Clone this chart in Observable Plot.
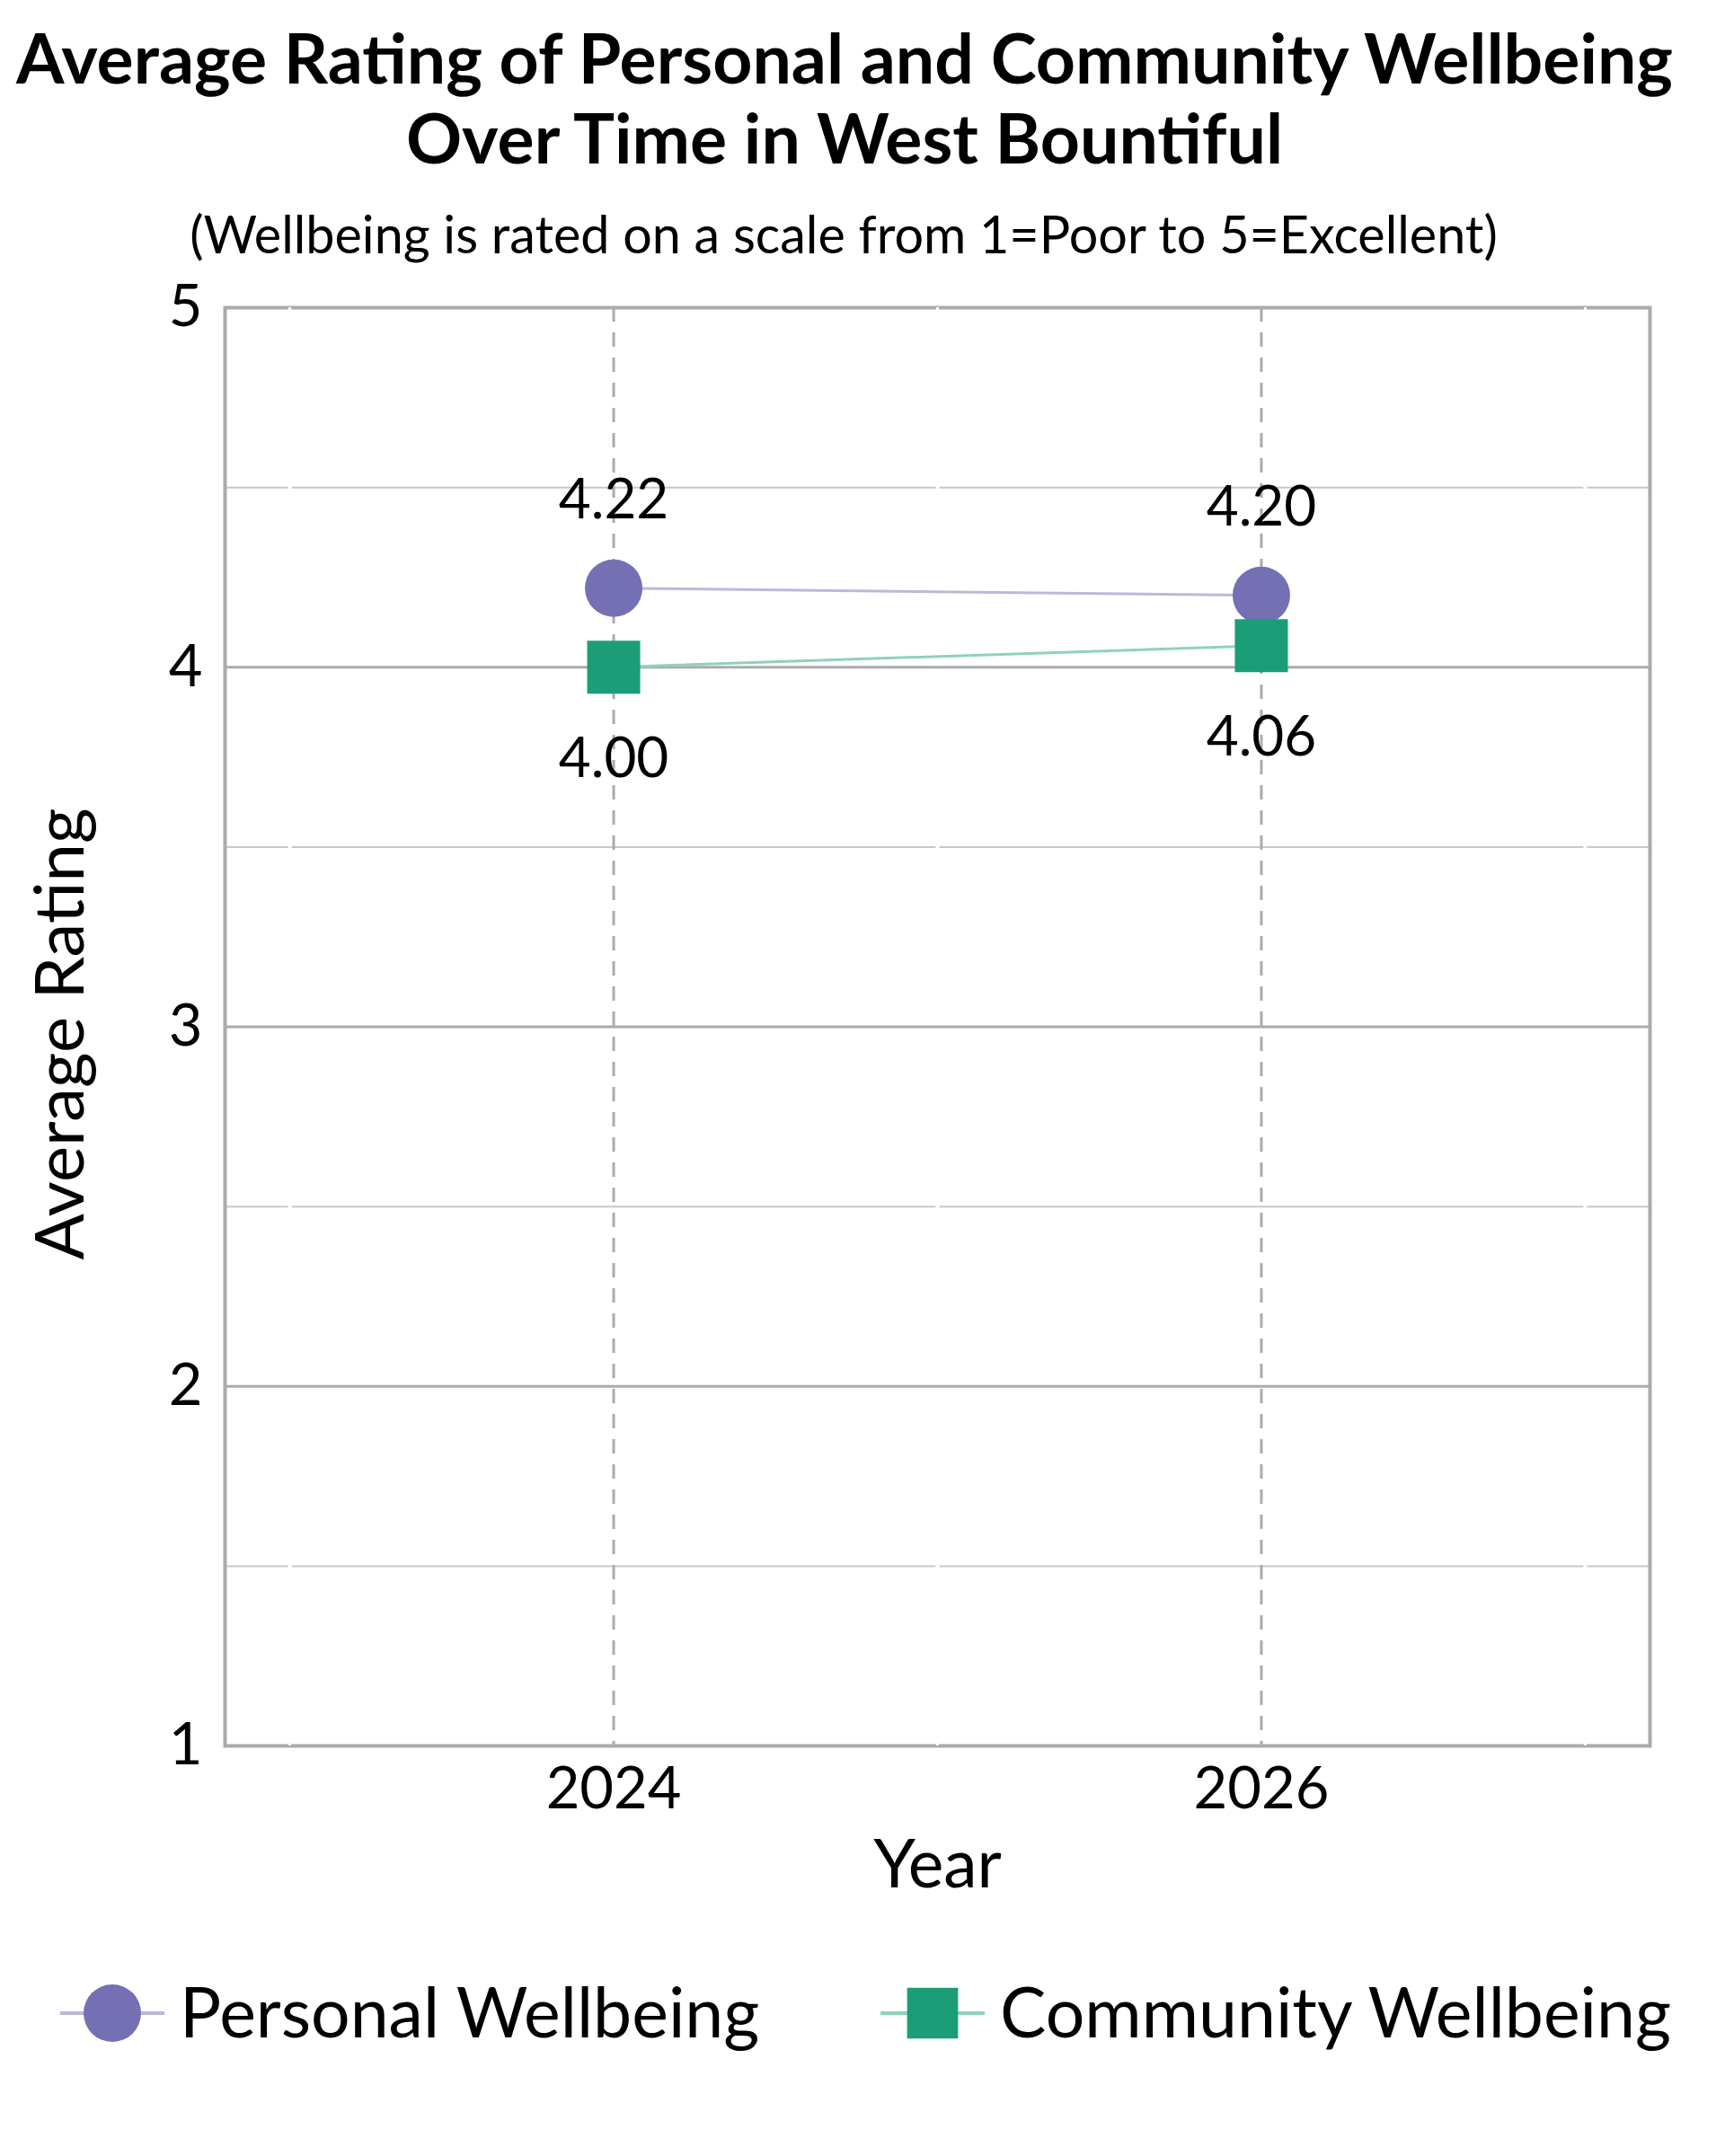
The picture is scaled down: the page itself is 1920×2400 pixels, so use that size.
<!DOCTYPE html>
<html>
<head>
<meta charset="utf-8">
<script src="https://cdn.jsdelivr.net/npm/d3@7"></script>
<script src="https://cdn.jsdelivr.net/npm/@observablehq/plot@0.6"></script>
<style>
  html, body { margin: 0; padding: 0; background: #fff; }
  #page { position: relative; width: 1920px; height: 2400px; font-family: Lato, "Open Sans", sans-serif; color: #000; }
  #title { position: absolute; left: 0; top: 19px; width: 1880px; text-align: center; font-weight: 700; font-size: 77px; line-height: 89px; white-space: nowrap; }
  #subtitle { position: absolute; left: 0; top: 226px; width: 1878px; text-align: center; font-size: 57.5px; line-height: 68px; white-space: nowrap; }
  #chart { position: absolute; left: 0; top: 300px; }
  #legend { position: absolute; left: 0; top: 2192px; width: 1920px; height: 92px; font-size: 77px; line-height: 92px; }
  .item { position: absolute; top: 0; display: flex; align-items: center; white-space: nowrap; }
</style>
</head>
<body>
<div id="page">
  <div id="title">Average Rating of Personal and Community Wellbeing<br>Over Time in West Bountiful</div>
  <div id="subtitle">(Wellbeing is rated on a scale from 1=Poor to 5=Excellent)</div>
  <div id="chart"></div>
  <div id="legend"></div>
</div>
<script>
// ---- data ----
const years = [2024, 2026];
const personal = [4.22, 4.20];
const community = [4.00, 4.06];
const seriesNames = ["Personal Wellbeing", "Community Wellbeing"];
const seriesColors = ["#7570b3", "#1b9e77"];
const lineColors = ["#bcb8dc", "#8fd3b9"];
const seriesSymbols = ["circle", "square"];
const xTicks = [2024, 2026];
const xMinorTicks = [2023, 2025, 2027];
const yTicks = [1, 2, 3, 4, 5];
const yMajorGrid = [2, 3, 4];
const yMinorGrid = [1.5, 2.5, 3.5, 4.5];

const rows = [];
years.forEach((yr, i) => {
  rows.push({series: seriesNames[0], year: yr, value: personal[i]});
  rows.push({series: seriesNames[1], year: yr, value: community[i]});
});
const pRows = rows.filter(d => d.series === seriesNames[0]);
const cRows = rows.filter(d => d.series === seriesNames[1]);
const fmt = d3.format(".2f");

const chart = Plot.plot({
  width: 1920,
  height: 1843,
  marginTop: 42,
  marginLeft: 250,
  marginRight: 84,
  marginBottom: 200,
  style: {fontFamily: "Lato, 'Open Sans', sans-serif", color: "#000", background: "transparent", overflow: "visible"},
  x: {type: "linear", domain: [2022.8, 2027.2]},
  y: {type: "linear", domain: [1, 5]},
  marks: [
    Plot.gridY(yMinorGrid, {stroke: "#c8c8c8", strokeOpacity: 1, strokeWidth: 2}),
    Plot.ruleX(xMinorTicks, {y1: 1, y2: 5, stroke: "#fff", strokeWidth: 4}),
    Plot.gridY(yMajorGrid, {stroke: "#ababab", strokeOpacity: 1, strokeWidth: 3}),
    Plot.gridX(xTicks, {stroke: "#ababab", strokeOpacity: 1, strokeWidth: 3, strokeDasharray: "16,12"}),
    Plot.frame({stroke: "#ababab", strokeWidth: 4}),
    Plot.ruleX(xMinorTicks, {y1: 1, y2: 1.012, stroke: "#fff", strokeWidth: 3}),
    Plot.ruleX(xMinorTicks, {y1: 4.988, y2: 5, stroke: "#fff", strokeWidth: 3}),
    Plot.axisY(yTicks, {tickSize: 0, tickPadding: 25, fontSize: 65, tickFormat: d => String(d), label: null}),
    Plot.axisX(xTicks, {tickSize: 0, tickPadding: 23, fontSize: 65, tickFormat: d => String(d), label: null}),
    Plot.text(["Average Rating"], {frameAnchor: "left", textAnchor: "middle", rotate: -90, dx: -182, dy: 8, fontSize: 76, fill: "#000"}),
    Plot.text(["Year"], {frameAnchor: "bottom", dy: 157, fontSize: 75, fill: "#000"}),
    Plot.line(pRows, {x: "year", y: "value", stroke: lineColors[0], strokeWidth: 3}),
    Plot.line(cRows, {x: "year", y: "value", stroke: lineColors[1], strokeWidth: 3}),
    Plot.dot(pRows, {x: "year", y: "value", r: 32, fill: seriesColors[0], symbol: seriesSymbols[0]}),
    Plot.dot(cRows, {x: "year", y: "value", r: 33.3, fill: seriesColors[1], symbol: seriesSymbols[1]}),
    Plot.text(pRows, {x: "year", y: "value", text: d => fmt(d.value), dy: -98, fontSize: 62, fill: "#000"}),
    Plot.text(cRows, {x: "year", y: "value", text: d => fmt(d.value), dy: 102, fontSize: 62, fill: "#000"})
  ]
});
document.getElementById("chart").appendChild(chart);

// ---- legend ----
const legend = document.getElementById("legend");
const legendLeft = [67, 980];
seriesNames.forEach((name, i) => {
  const item = document.createElement("div");
  item.className = "item";
  item.style.left = legendLeft[i] + "px";
  const ns = "http://www.w3.org/2000/svg";
  const svg = document.createElementNS(ns, "svg");
  svg.setAttribute("width", 116);
  svg.setAttribute("height", 92);
  svg.style.marginRight = "17px";
  const ln = document.createElementNS(ns, "line");
  ln.setAttribute("x1", 0); ln.setAttribute("x2", 116);
  ln.setAttribute("y1", 49); ln.setAttribute("y2", 49);
  ln.setAttribute("stroke", lineColors[i]); ln.setAttribute("stroke-width", 4);
  svg.appendChild(ln);
  const sym = d3.symbol(seriesSymbols[i] === "circle" ? d3.symbolCircle : d3.symbolSquare, Math.PI * 32 * 32)();
  const p = document.createElementNS(ns, "path");
  p.setAttribute("d", sym);
  p.setAttribute("transform", "translate(58,49)");
  p.setAttribute("fill", seriesColors[i]);
  svg.appendChild(p);
  item.appendChild(svg);
  const t = document.createElement("span");
  t.textContent = name;
  item.appendChild(t);
  legend.appendChild(item);
});
</script>
</body>
</html>
